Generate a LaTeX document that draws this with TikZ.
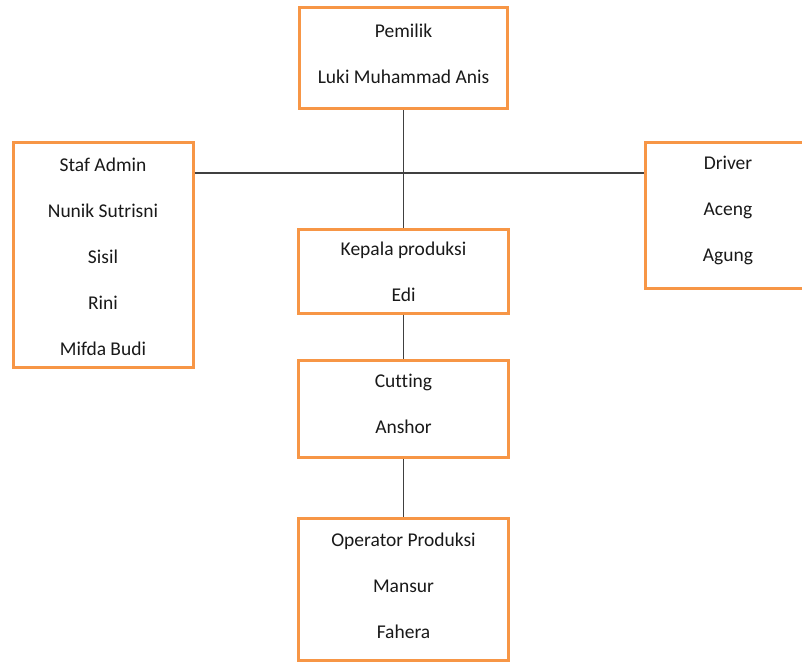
\documentclass[tikz,border=0pt]{standalone}
\usepackage{fontspec}
\setmainfont{Carlito}[Ligatures=NoCommon]
\definecolor{boxorange}{HTML}{F79646}
\definecolor{linegray}{HTML}{404040}
\begin{document}
\begin{tikzpicture}[x=1pt,y=-1pt,
  orgbox/.style={draw=boxorange, line width=3pt, fill=white, rectangle, inner sep=0pt},
  txt/.style={align=center, font=\fontsize{19.5}{46}\selectfont, text=black!90, inner sep=0pt},
  conn/.style={draw=linegray, line width=1.5pt}]
\clip (0,0) rectangle (802,663);
\fill[white] (0,0) rectangle (802,663);
% boxes
\node[orgbox, minimum width=208, minimum height=101] (pem) at (403.5,58.5) {};
\node[orgbox, minimum width=180, minimum height=224] (staf) at (103,255) {};
\node[orgbox, minimum width=166, minimum height=145] (drv) at (728,215.5) {};
\node[orgbox, minimum width=210, minimum height=84] (kep) at (403.5,271) {};
\node[orgbox, minimum width=210, minimum height=97] (cut) at (403.5,408.5) {};
\node[orgbox, minimum width=210, minimum height=142] (opr) at (403.5,589) {};
% texts
\node[txt] (pemt) at (403.5,53.5) {Pemilik\\Luki Muhammad Anis};
\node[txt] (staft) at (103,256.5) {Staf Admin\\Nunik Sutrisni\\Sisil\\Rini\\Mifda Budi};
\node[txt] (drvt) at (728,210.5) {Driver\\Aceng\\Agung};
\node[txt] (kept) at (403.5,272) {Kepala produksi\\Edi};
\node[txt] (cutt) at (403.5,404) {Cutting\\Anshor};
\node[txt] (oprt) at (403.5,586) {Operator Produksi\\Mansur\\Fahera};
% connectors
\coordinate (hj) at (403.5,173);
\draw[conn] (pem.south) -- (kep.north);
\draw[conn] (staf.east |- hj) -- (drv.west |- hj);
\draw[conn] (kep.south) -- (cut.north);
\draw[conn] (cut.south) -- (opr.north);
\end{tikzpicture}
\end{document}
